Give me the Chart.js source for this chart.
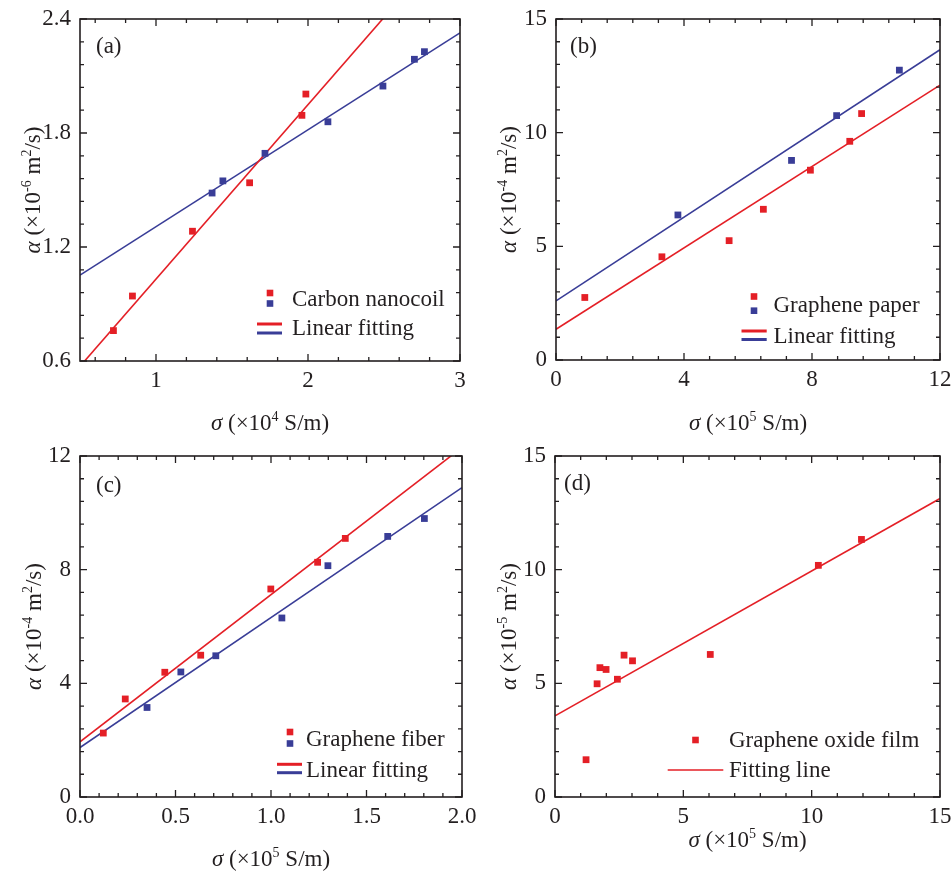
<!DOCTYPE html>
<html>
<head>
<meta charset="utf-8">
<script src="https://cdn.jsdelivr.net/npm/chart.js@4.4.1/dist/chart.umd.min.js"></script>
<style>
  body { margin: 0; background: #fff; }
  #page { position: relative; width: 952px; height: 875px; overflow: hidden; background: #fff; }
  #page canvas { position: absolute; }
</style>
</head>
<body>
<div id="page">
  <canvas id="cvs-a" width="476" height="440" style="left:0;top:0"></canvas>
  <canvas id="cvs-b" width="476" height="440" style="left:476px;top:0"></canvas>
  <canvas id="cvs-c" width="476" height="435" style="left:0;top:440px"></canvas>
  <canvas id="cvs-d" width="476" height="435" style="left:476px;top:440px"></canvas>
</div>
<script>
//-------------------------------------------------------------------
// data
//-------------------------------------------------------------------
// (a) carbon nanocoil, sigma in 1e4 S/m, alpha in 1e-6 m2/s
const aRedX  = [0.72, 0.845, 1.24, 1.616, 1.96, 1.986];
const aRedY  = [0.76, 0.942, 1.283, 1.538, 1.893, 2.005];
const aBlueX = [1.369, 1.44, 1.717, 2.131, 2.493, 2.70, 2.766];
const aBlueY = [1.484, 1.548, 1.693, 1.859, 2.047, 2.188, 2.228];
const aRedFitX  = [0.5, 2.6];
const aRedFitY  = [0.572, 2.50];
const aBlueFitX = [0.5, 3.0];
const aBlueFitY = [1.052, 2.327];
const aTicksX = [1, 2, 3];
const aTicksY = [0.6, 1.2, 1.8, 2.4];

// (b) graphene paper, sigma in 1e5 S/m, alpha in 1e-4 m2/s
const bRedX  = [0.90, 3.31, 5.41, 6.48, 7.95, 9.18, 9.55];
const bRedY  = [2.75, 4.54, 5.25, 6.63, 8.35, 9.62, 10.84];
const bBlueX = [3.81, 7.36, 8.77, 10.73];
const bBlueY = [6.38, 8.78, 10.75, 12.75];
const bRedFitX  = [0, 12];
const bRedFitY  = [1.35, 12.09];
const bBlueFitX = [0, 12];
const bBlueFitY = [2.60, 13.65];
const bTicksX = [0, 4, 8, 12];
const bTicksY = [0, 5, 10, 15];

// (c) graphene fiber, sigma in 1e5 S/m, alpha in 1e-4 m2/s
const cRedX  = [0.122, 0.237, 0.444, 0.632, 0.999, 1.244, 1.389];
const cRedY  = [2.25, 3.45, 4.39, 4.99, 7.32, 8.26, 9.10];
const cBlueX = [0.351, 0.528, 0.711, 1.057, 1.298, 1.611, 1.803];
const cBlueY = [3.15, 4.40, 4.97, 6.30, 8.14, 9.17, 9.80];
const cRedFitX  = [0, 2.0];
const cRedFitY  = [1.94, 12.30];
const cBlueFitX = [0, 2.0];
const cBlueFitY = [1.74, 10.89];
const cTicksX = [0, 0.5, 1.0, 1.5, 2.0];
const cTicksY = [0, 4, 8, 12];

// (d) graphene oxide film, sigma in 1e5 S/m, alpha in 1e-5 m2/s
const dRedX = [1.21, 1.64, 1.75, 1.99, 2.43, 2.69, 3.02, 6.05, 10.26, 11.94];
const dRedY = [1.64, 4.98, 5.69, 5.61, 5.18, 6.24, 5.99, 6.27, 10.19, 11.33];
const dFitX = [0, 15];
const dFitY = [3.57, 13.13];
const dTicksX = [0, 5, 10, 15];
const dTicksY = [0, 5, 10, 15];

//-------------------------------------------------------------------
// styles
//-------------------------------------------------------------------
const RED = '#e41f26';
const BLUE = '#393d97';
const INK = '#231f20';
const FONT = '"Liberation Serif", "Times New Roman", serif';
const FONT_SIZE = 23;

//-------------------------------------------------------------------
// PanelChart
//-------------------------------------------------------------------
class PanelChart {
  constructor(config) {
    this.config = config;
    this.chart = null;
  }

  //--------------------------------------------------------------
  // public methods
  //--------------------------------------------------------------
  draw() {
    let cfg = this.config;
    let cvs = document.getElementById(cfg.canvasId);
    let area = cfg.area;

    let datasets = [];
    cfg.fits.forEach((fit) => {
      datasets.push({
        type: 'scatter',
        data: this._toPoints(fit.x, fit.y),
        showLine: true,
        borderColor: fit.color,
        borderWidth: 1.6,
        pointRadius: 0,
        order: 2
      });
    });
    cfg.series.forEach((s) => {
      datasets.push({
        type: 'scatter',
        data: this._toPoints(s.x, s.y),
        pointStyle: 'rect',
        pointRadius: 4.8,
        pointBackgroundColor: s.color,
        pointBorderWidth: 0,
        order: 1
      });
    });

    this.chart = new Chart(cvs.getContext('2d'), {
      type: 'scatter',
      data: { datasets: datasets },
      options: {
        animation: false,
        responsive: false,
        events: [],
        layout: {
          padding: { left: 0, top: area.top, right: cvs.width - area.right, bottom: 0 }
        },
        scales: {
          x: this._scaleOptions('x', cvs.height - area.bottom),
          y: this._scaleOptions('y', area.left)
        },
        plugins: {
          legend: { display: false },
          tooltip: { enabled: false }
        }
      },
      plugins: [{
        id: 'panelDecor',
        afterDatasetsDraw: (chart) => { this._decorate(chart); }
      }]
    });
  }

  //--------------------------------------------------------------
  // private methods
  //--------------------------------------------------------------
  _toPoints(xs, ys) {
    return xs.map((x, i) => ({ x: x, y: ys[i] }));
  }

  _scaleOptions(axis, size) {
    let ax = this.config[axis];
    return {
      type: 'linear',
      min: ax.min,
      max: ax.max,
      grid: { display: false, drawTicks: false },
      border: { display: false },
      afterBuildTicks: (scale) => {
        scale.ticks = ax.ticks.map((v) => ({ value: v }));
      },
      afterFit: (scale) => {
        if (axis == 'x') {
          scale.height = size;
          scale.paddingLeft = 0;
          scale.paddingRight = 0;
        } else {
          scale.width = size;
          scale.paddingTop = 0;
          scale.paddingBottom = 0;
        }
      },
      ticks: {
        padding: axis == 'x' ? 6 : 9,
        color: INK,
        font: { family: FONT, size: FONT_SIZE },
        maxRotation: 0,
        autoSkip: false,
        callback: (val) => Number(val).toFixed(ax.decimals)
      }
    };
  }

  _decorate(chart) {
    let ctx = chart.ctx;
    let cfg = this.config;
    let ca = chart.chartArea;

    ctx.save();
    ctx.strokeStyle = INK;
    ctx.fillStyle = INK;

    // frame
    ctx.lineWidth = 1.6;
    ctx.strokeRect(ca.left, ca.top, ca.right - ca.left, ca.bottom - ca.top);

    // inward ticks on all four sides
    ctx.lineWidth = 1.3;
    this._tickMarks(chart.scales.x, cfg.x, (p, len) => {
      ctx.moveTo(p, ca.bottom); ctx.lineTo(p, ca.bottom - len);
      ctx.moveTo(p, ca.top); ctx.lineTo(p, ca.top + len);
    });
    this._tickMarks(chart.scales.y, cfg.y, (p, len) => {
      ctx.moveTo(ca.left, p); ctx.lineTo(ca.left + len, p);
      ctx.moveTo(ca.right, p); ctx.lineTo(ca.right - len, p);
    });

    // panel letter
    ctx.textAlign = 'left';
    ctx.textBaseline = 'alphabetic';
    ctx.font = FONT_SIZE + 'px ' + FONT;
    ctx.fillText(cfg.letter.text, cfg.letter.x, cfg.letter.y);

    // axis titles
    let midX = (ca.left + ca.right) / 2;
    this._richText(ctx, cfg.xTitle.text, midX, cfg.xTitle.y);
    ctx.save();
    ctx.translate(cfg.yTitle.x, (ca.top + ca.bottom) / 2);
    ctx.rotate(-Math.PI / 2);
    this._richText(ctx, cfg.yTitle.text, 0, 0);
    ctx.restore();

    this._legend(ctx);
    ctx.restore();
  }

  _tickMarks(scale, ax, drawFn) {
    let ctx = scale.ctx;
    ctx.beginPath();
    let n = Math.round((ax.max - ax.minorStart) / ax.minorStep);
    for (let i = 0; i <= n; i++) {
      let v = ax.minorStart + i * ax.minorStep;
      let isMajor = ax.ticks.some((t) => Math.abs(t - v) < 1e-6);
      drawFn(scale.getPixelForValue(v), isMajor ? 7 : 4);
    }
    ctx.stroke();
  }

  _legend(ctx) {
    let lg = this.config.legend;
    ctx.font = FONT_SIZE + 'px ' + FONT;
    ctx.textAlign = 'left';
    ctx.textBaseline = 'alphabetic';

    // marker row
    lg.markerColors.forEach((c, i) => {
      ctx.fillStyle = c;
      ctx.fillRect(lg.markerX - 3.3, lg.markerY[i] - 3.3, 6.6, 6.6);
    });
    ctx.fillStyle = INK;
    ctx.fillText(lg.markerLabel, lg.textX, lg.markerBase);

    // line row
    lg.lineColors.forEach((c, i) => {
      ctx.strokeStyle = c;
      ctx.lineWidth = lg.lineWidth;
      ctx.beginPath();
      ctx.moveTo(lg.lineX[0], lg.lineY[i]);
      ctx.lineTo(lg.lineX[1], lg.lineY[i]);
      ctx.stroke();
    });
    ctx.fillStyle = INK;
    ctx.fillText(lg.lineLabel, lg.textX, lg.lineBase);
  }

  // text with italic greek letters and ^{...} superscripts
  _richText(ctx, text, cx, baseY) {
    let runs = [];
    text.split(/(\^\{[^}]*\})/).forEach((part) => {
      if (part == '') return;
      if (part.startsWith('^{')) {
        runs.push({ t: part.slice(2, -1), kind: 'sup' });
        return;
      }
      for (let ch of part) {
        let kind = /[α-ω]/.test(ch) ? 'ital' : 'norm';
        let last = runs[runs.length - 1];
        if (last && last.kind == kind) last.t += ch;
        else runs.push({ t: ch, kind: kind });
      }
    });

    let fontFor = (kind) => {
      if (kind == 'ital') return 'italic ' + FONT_SIZE + 'px ' + FONT;
      if (kind == 'sup') return Math.round(FONT_SIZE * 0.62) + 'px ' + FONT;
      return FONT_SIZE + 'px ' + FONT;
    };

    let total = 0;
    runs.forEach((r) => {
      ctx.font = fontFor(r.kind);
      r.w = ctx.measureText(r.t).width;
      total += r.w;
    });

    ctx.fillStyle = INK;
    ctx.textAlign = 'left';
    ctx.textBaseline = 'alphabetic';
    let x = cx - total / 2;
    runs.forEach((r) => {
      ctx.font = fontFor(r.kind);
      let dy = r.kind == 'sup' ? -FONT_SIZE * 0.4 : 0;
      ctx.fillText(r.t, x, baseY + dy);
      x += r.w;
    });
  }
}

//-------------------------------------------------------------------
// panels
//-------------------------------------------------------------------
const panelConfigs = [
  {
    canvasId: 'cvs-a',
    area: { left: 80, top: 19, right: 460, bottom: 361 },
    x: { min: 0.5, max: 3, ticks: aTicksX, minorStart: 0.6, minorStep: 0.2, decimals: 0 },
    y: { min: 0.6, max: 2.4, ticks: aTicksY, minorStart: 0.6, minorStep: 0.12, decimals: 1 },
    series: [{ x: aRedX, y: aRedY, color: RED }, { x: aBlueX, y: aBlueY, color: BLUE }],
    fits: [{ x: aRedFitX, y: aRedFitY, color: RED }, { x: aBlueFitX, y: aBlueFitY, color: BLUE }],
    letter: { text: '(a)', x: 96, y: 53 },
    xTitle: { text: 'σ (×10^{4} S/m)', y: 430 },
    yTitle: { text: 'α (×10^{-6} m^{2}/s)', x: 40 },
    legend: {
      markerColors: [RED, BLUE], markerX: 270, markerY: [293, 303.5],
      markerLabel: 'Carbon nanocoil', markerBase: 306, textX: 292,
      lineColors: [RED, BLUE], lineX: [257, 282], lineY: [324, 333], lineWidth: 3,
      lineLabel: 'Linear fitting', lineBase: 335
    }
  },
  {
    canvasId: 'cvs-b',
    area: { left: 80, top: 19, right: 464, bottom: 360 },
    x: { min: 0, max: 12, ticks: bTicksX, minorStart: 0, minorStep: 0.8, decimals: 0 },
    y: { min: 0, max: 15, ticks: bTicksY, minorStart: 0, minorStep: 1, decimals: 0 },
    series: [{ x: bRedX, y: bRedY, color: RED }, { x: bBlueX, y: bBlueY, color: BLUE }],
    fits: [{ x: bRedFitX, y: bRedFitY, color: RED }, { x: bBlueFitX, y: bBlueFitY, color: BLUE }],
    letter: { text: '(b)', x: 94, y: 53 },
    xTitle: { text: 'σ (×10^{5} S/m)', y: 430 },
    yTitle: { text: 'α (×10^{-4} m^{2}/s)', x: 40 },
    legend: {
      markerColors: [RED, BLUE], markerX: 278, markerY: [296.5, 310.7],
      markerLabel: 'Graphene paper', markerBase: 311.7, textX: 297.5,
      lineColors: [RED, BLUE], lineX: [265.5, 290.7], lineY: [331, 339.5], lineWidth: 3,
      lineLabel: 'Linear fitting', lineBase: 342.5
    }
  },
  {
    canvasId: 'cvs-c',
    area: { left: 80, top: 16, right: 462, bottom: 357 },
    x: { min: 0, max: 2, ticks: cTicksX, minorStart: 0, minorStep: 0.1, decimals: 1 },
    y: { min: 0, max: 12, ticks: cTicksY, minorStart: 0, minorStep: 0.8, decimals: 0 },
    series: [{ x: cRedX, y: cRedY, color: RED }, { x: cBlueX, y: cBlueY, color: BLUE }],
    fits: [{ x: cRedFitX, y: cRedFitY, color: RED }, { x: cBlueFitX, y: cBlueFitY, color: BLUE }],
    letter: { text: '(c)', x: 96, y: 52 },
    xTitle: { text: 'σ (×10^{5} S/m)', y: 426 },
    yTitle: { text: 'α (×10^{-4} m^{2}/s)', x: 41 },
    legend: {
      markerColors: [RED, BLUE], markerX: 290, markerY: [292, 303.5],
      markerLabel: 'Graphene fiber', markerBase: 306, textX: 306,
      lineColors: [RED, BLUE], lineX: [277, 302], lineY: [324.3, 332.7], lineWidth: 3,
      lineLabel: 'Linear fitting', lineBase: 336.7
    }
  },
  {
    canvasId: 'cvs-d',
    area: { left: 79, top: 16, right: 464, bottom: 357 },
    x: { min: 0, max: 15, ticks: dTicksX, minorStart: 0, minorStep: 1, decimals: 0 },
    y: { min: 0, max: 15, ticks: dTicksY, minorStart: 0, minorStep: 1, decimals: 0 },
    series: [{ x: dRedX, y: dRedY, color: RED }],
    fits: [{ x: dFitX, y: dFitY, color: RED }],
    letter: { text: '(d)', x: 88, y: 50 },
    xTitle: { text: 'σ (×10^{5} S/m)', y: 407 },
    yTitle: { text: 'α (×10^{-5} m^{2}/s)', x: 40 },
    legend: {
      markerColors: [RED], markerX: 219.5, markerY: [300],
      markerLabel: 'Graphene oxide film', markerBase: 306.7, textX: 253,
      lineColors: [RED], lineX: [191.7, 247.3], lineY: [330], lineWidth: 1.6,
      lineLabel: 'Fitting line', lineBase: 337
    }
  }
];

panelConfigs.forEach((cfg) => { new PanelChart(cfg).draw(); });
</script>
</body>
</html>
